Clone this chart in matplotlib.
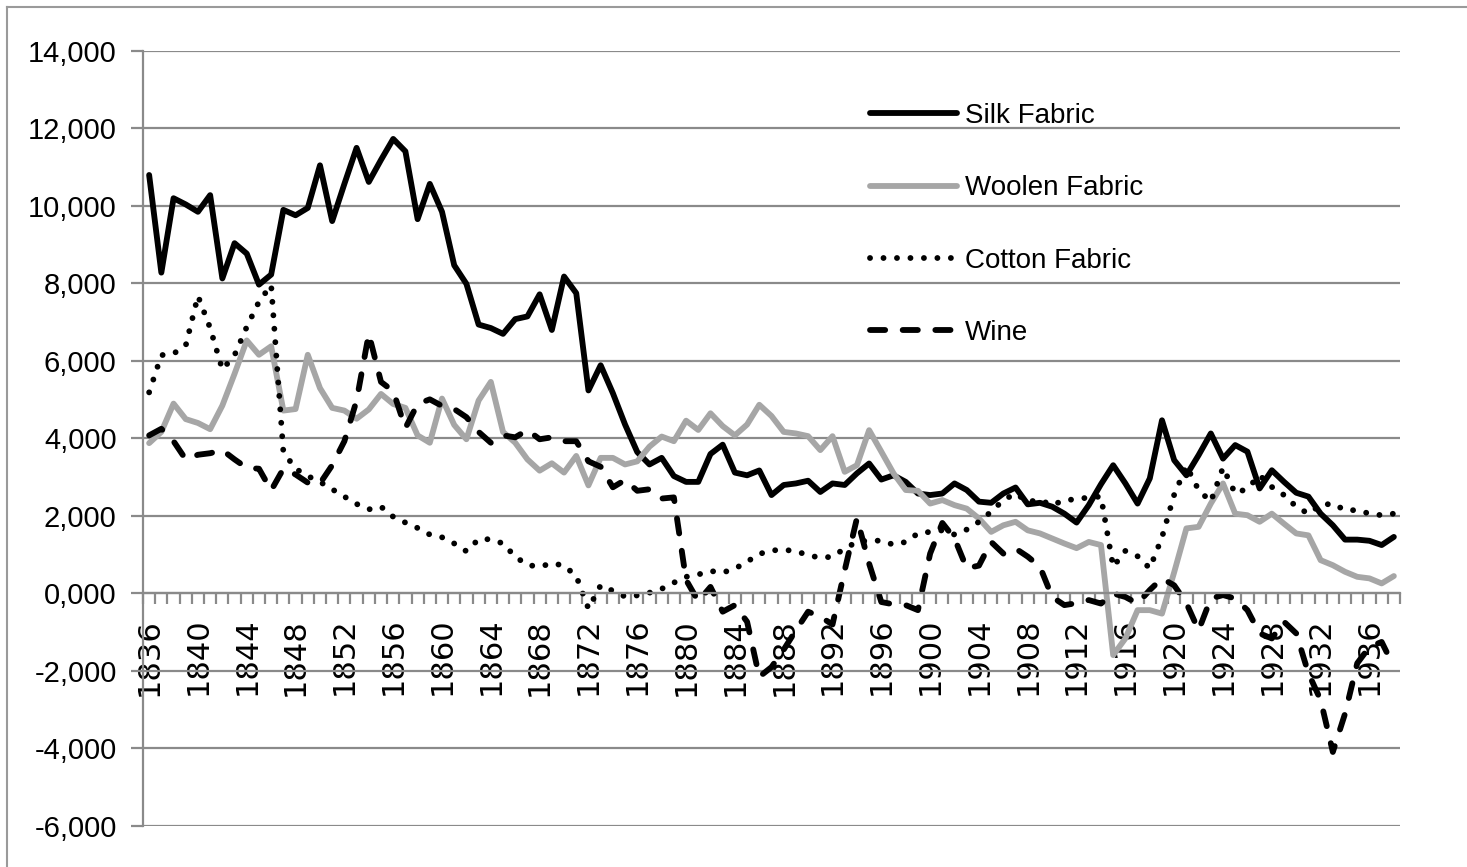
import matplotlib
matplotlib.use("Agg")
import matplotlib.pyplot as plt
from matplotlib.lines import Line2D
import numpy as np

years = list(range(1836, 1939))

silk = [10800, 8280, 10200, 10040, 9850, 10280, 8130, 9040, 8770, 7970,
        8230, 9900, 9760, 9950, 11050, 9610, 10570, 11500, 10620, 11190,
        11730, 11410, 9660, 10570, 9850, 8470, 7990, 6940, 6850, 6700,
        7080, 7150, 7720, 6800, 8180, 7750, 5240, 5890, 5170, 4360,
        3650, 3330, 3500, 3030, 2880, 2880, 3600, 3840, 3120, 3050,
        3175, 2540, 2800, 2840, 2910, 2620, 2840, 2800, 3100, 3355,
        2940, 3050, 2880, 2580, 2540, 2580, 2840, 2670, 2370, 2340,
        2580, 2735, 2300, 2340, 2240, 2060, 1830, 2280, 2820, 3310,
        2840, 2320, 2970, 4470, 3440, 3050, 3570, 4130, 3480, 3830,
        3660, 2710, 3180, 2880, 2600, 2500, 2060, 1760, 1390, 1390,
        1360, 1250, 1460]

woolen = [3880, 4170, 4900, 4500, 4400, 4240, 4850, 5670, 6530, 6160,
          6380, 4720, 4760, 6160, 5300, 4790, 4720, 4510, 4750, 5150,
          4890, 4790, 4080, 3890, 5030, 4350, 3980, 4980, 5460, 4170,
          3890, 3460, 3170, 3360, 3120, 3550, 2790, 3500, 3500, 3330,
          3410, 3790, 4050, 3930, 4460, 4220, 4650, 4320, 4080, 4360,
          4870, 4580, 4170, 4130, 4060, 3700, 4060, 3140, 3310, 4215,
          3660, 3100, 2670, 2650, 2320, 2410, 2280, 2190, 1935, 1590,
          1760, 1850, 1630, 1550, 1420, 1290, 1170, 1330, 1250, -1590,
          -1160, -430, -430, -520, 550, 1680, 1720, 2320, 2840, 2060,
          2020, 1850, 2060, 1800, 1550, 1500, 860, 730, 560, 430,
          390, 260, 450]

cotton = [5190, 6150, 6190, 6400, 7680, 6850, 5780, 6150, 6880, 7530,
          7960, 3650, 3220, 3030, 2880, 2690, 2500, 2310, 2170, 2240,
          1980, 1830, 1690, 1520, 1450, 1290, 1090, 1400, 1400, 1290,
          950, 735, 690, 780, 720, 450, -390, 210, 70, -80,
          -50, 20, 120, 280, 430, 490, 580, 540, 640, 820,
          1020, 1110, 1130, 1090, 990, 920, 950, 1160, 1330, 1370,
          1360, 1260, 1330, 1550, 1590, 1630, 1520, 1650, 1850, 2110,
          2410, 2580, 2370, 2410, 2280, 2410, 2430, 2480, 2500, 690,
          1100, 960, 650, 1450, 2550, 3290, 2670, 2370, 3250, 2580,
          2710, 3050, 2750, 2540, 2240, 2060, 2280, 2320, 2150, 2150,
          2060, 2020, 2060]

wine = [4080, 4250, 3930, 3460, 3580, 3620, 3700, 3460, 3240, 3220,
        2660, 3220, 3070, 2860, 2840, 3310, 3930, 4980, 6700, 5460,
        5220, 4270, 4890, 5010, 4840, 4760, 4550, 4170, 3890, 4080,
        4030, 4220, 3980, 4030, 3930, 3930, 3410, 3270, 2740, 2930,
        2650, 2690, 2450, 2480, 350, -200, 170, -470, -300, -730,
        -2150, -1900, -1450, -950, -470, -600, -800, 600, 1940, 770,
        -220, -280, -300, -430, 1030, 1820, 1420, 650, 720, 1330,
        1030, 1160, 950, 690, -90, -300, -250, -170, -260, 0,
        -90, -260, 90, 390, 210, -250, -950, -130, -40, -130,
        -430, -1030, -1160, -730, -1030, -2060, -2750, -4090, -3100, -1800,
        -1380, -1250, -1890]

yticks = list(range(-6000, 14001, 2000))
ylabels = ["-6,000", "-4,000", "-2,000", "0,000", "2,000", "4,000",
           "6,000", "8,000", "10,000", "12,000", "14,000"]

narrow = ["Liberation Sans Narrow", "Liberation Sans", "DejaVu Sans"]
grid_col = "#8a8a8a"

fig = plt.figure(figsize=(14.67, 8.67), dpi=100)
ax = fig.add_axes([0.0975, 0.0473, 0.8568, 0.8939])

# spines first: moving the bottom spine resets the tick settings
for s in ["top", "right"]:
    ax.spines[s].set_visible(False)
ax.spines["bottom"].set_position(("data", 0))
ax.spines["bottom"].set_color(grid_col)
ax.spines["bottom"].set_linewidth(1.6)
ax.spines["left"].set_color(grid_col)
ax.spines["left"].set_linewidth(1.6)

x = np.arange(len(years))
lw = 4.2
ax.plot(x, silk, color="black", lw=lw, label="Silk Fabric",
        solid_joinstyle="round", solid_capstyle="round")
ax.plot(x, woolen, color="#a6a6a6", lw=lw, label="Woolen Fabric",
        solid_joinstyle="round", solid_capstyle="round")
ax.plot(x, cotton, color="black", lw=lw, linestyle=(0, (0.01, 2.3)),
        dash_capstyle="round", label="Cotton Fabric")
ax.plot(x, wine, color="black", lw=lw, linestyle=(0, (2.6, 3.0)),
        dash_capstyle="round", label="Wine")

ax.set_xlim(-0.5, len(years) - 0.5)
ax.set_ylim(-6000, 14000)

ax.set_yticks(yticks)
ax.set_yticklabels(ylabels, family=narrow, fontsize=21)
ax.yaxis.grid(True, color=grid_col, lw=1.6)
ax.set_axisbelow(True)
ax.tick_params(axis="y", length=9, width=1.6, color=grid_col, pad=10)

ax.set_xticks(x[::4])
ax.set_xticklabels([str(y) for y in years[::4]], family="DejaVu Sans")
ax.set_xticks(np.arange(-0.5, len(years), 1), minor=True)
ax.tick_params(axis="x", which="major", length=0, pad=17.5,
               labelsize=22, labelrotation=90)
ax.tick_params(axis="x", which="minor", length=8, width=1.6,
               color=grid_col, direction="out")

leg = ax.legend(loc="upper left", bbox_to_anchor=(0.578, 0.933),
                frameon=False, prop={"family": narrow, "size": 20},
                handlelength=3.15, handletextpad=0.3, labelspacing=1.67,
                borderpad=0, borderaxespad=0)

# chart area border (left and top edges visible)
fig.add_artist(Line2D([0.005, 0.005], [0, 0.992], transform=fig.transFigure,
                      color="#9a9a9a", lw=1.5))
fig.add_artist(Line2D([0.005, 1.0], [0.992, 0.992], transform=fig.transFigure,
                      color="#9a9a9a", lw=1.5))

fig.savefig("out.png", dpi=100)
